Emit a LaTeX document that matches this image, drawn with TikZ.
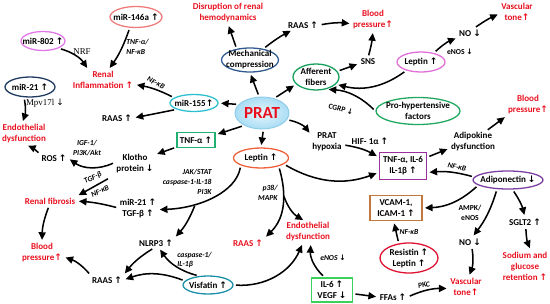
\documentclass[tikz,border=0pt]{standalone}
\usepackage{fontspec}
\setmainfont{Carlito}
\newfontfamily\arrfont{DejaVu Sans}
\newfontfamily\serffont{Liberation Serif}
\usetikzlibrary{shapes.geometric,arrows.meta}
\newcommand{\up}{{\arrfont\char"2191}}
\newcommand{\dn}{{\arrfont\char"2193}}
\definecolor{redtxt}{HTML}{E8101E}
\definecolor{c146}{HTML}{F07A7A}
\definecolor{c802}{HTML}{E277E8}
\definecolor{c21}{HTML}{1F3A5F}
\definecolor{cmech}{HTML}{2F5A8F}
\definecolor{c155}{HTML}{2BBFCF}
\definecolor{caff}{HTML}{12A05A}
\definecolor{cleptT}{HTML}{E070D8}
\definecolor{cpro}{HTML}{20A860}
\definecolor{ctnfa}{HTML}{20B070}
\definecolor{cleptM}{HTML}{F0603A}
\definecolor{ctnfbox}{HTML}{9B2FA0}
\definecolor{cadipo}{HTML}{7A3FA0}
\definecolor{cvcam}{HTML}{C07840}
\definecolor{cresist}{HTML}{E01030}
\definecolor{cvisf}{HTML}{1A90A8}
\definecolor{cil6}{HTML}{3CD060}
\definecolor{pratin}{HTML}{E8F6FD}
\definecolor{pratout}{HTML}{A9DDF4}
\definecolor{pratdraw}{HTML}{8CCBEA}
\begin{document}
\begin{tikzpicture}[x=0.03cm, y=0.03cm,
  tx/.style={font=\fontsize{7.7}{9.4}\selectfont\bfseries, align=center, inner sep=1pt},
  rd/.style={tx, text=redtxt},
  lb/.style={font=\fontsize{6.5}{8.3}\selectfont\bfseries\itshape, align=center, inner sep=1pt},
  sm/.style={font=\fontsize{6.5}{8.3}\selectfont\bfseries, align=center, inner sep=1pt},
  sf/.style={font=\serffont\fontsize{7.6}{9}\selectfont, inner sep=1pt},
  el/.style={tx, ellipse, draw=#1, line width=1.1pt, inner sep=-12pt},
  bx/.style={tx, draw=#1, line width=1.1pt, inner sep=1.5pt},
  ar/.style={-{Triangle[length=6.5pt,width=6pt]}, line width=1.3pt, shorten <=2pt, shorten >=2pt}
]
\useasboundingbox (0,0) rectangle (550,-304);

% ===== TOP LEFT =====
\node[el=c146, minimum width=1.56cm, minimum height=0.63cm] (m146) at (136,-17) {miR-146a \up};
\node[el=c802, minimum width=1.32cm, minimum height=0.57cm] (m802) at (43,-41) {miR-802 \up};
\node[sf] (nrf) at (82,-52) {NRF};
\node[lb, align=left, anchor=west] (tnfk) at (125,-47) {TNF-α/\\NF-κB};
\node[rd] (renalinf) at (103,-80) {Renal\\Inflammation \up};
\node[el=c21, minimum width=1.5cm, minimum height=0.6cm] (mir21) at (30,-87) {miR-21 \up};
\node[sf] (mpv) at (45,-103) {Mpv17l \dn};

% ===== TOP CENTRE / RIGHT =====
\node[rd] (disrupt) at (228,-13) {Disruption of renal\\hemodynamics};
\node[el=cmech, minimum width=1.71cm, minimum height=0.72cm] (mech) at (250,-60) {Mechanical\\compression};
\node[tx] (raasT) at (303,-25) {RAAS \up};
\node[rd] (bpT) at (373,-20) {Blood\\pressure\up};
\node[tx] (sns) at (368,-62) {SNS};
\node[el=caff, minimum width=1.38cm, minimum height=0.78cm] (aff) at (316,-77) {Afferent\\fibers};
\node[el=cleptT, minimum width=1.44cm, minimum height=0.6cm] (leptT) at (421,-62) {Leptin \up};
\node[tx] (noT) at (470,-33) {NO \dn};
\node[sm] (enosT) at (460,-52) {eNOS \dn};
\node[rd] (vascT) at (517,-12) {Vascular\\tone\up};
\node[el=cpro, minimum width=2.52cm, minimum height=0.81cm] (prohyp) at (418,-111) {Pro-hypertensive\\factors};
\node[sm, rotate=-15] (cgrp) at (341,-109) {CGRP \dn};

% ===== PRAT =====
\node[ellipse, inner color=pratin, outer color=pratout, draw=pratdraw, line width=0.8pt,
      minimum width=1.62cm, minimum height=0.96cm, inner sep=0pt,
      font=\fontsize{14.5}{16}\selectfont\bfseries, text=redtxt] (prat) at (262,-113) {PRAT};

% ===== LEFT MIDDLE =====
\node[el=c155, minimum width=1.44cm, minimum height=0.51cm] (mir155) at (194,-103) {miR-155\up};
\node[lb, rotate=-28] (nfk1) at (156,-83) {NF-κB};
\node[tx] (raasL) at (117,-118) {RAAS \up};
\node[bx=ctnfa, minimum width=1.14cm, minimum height=0.45cm] (tnfa) at (196,-140) {TNF-α \up};
\node[tx] (klotho) at (135,-164) {Klotho\\protein \dn};
\node[tx] (ros) at (54,-158) {ROS \up};
\node[lb] (igf) at (87,-148) {IGF-1/\\PI3K/Akt};
\node[rd] (endoL) at (24,-134) {Endothelial\\dysfunction};
\node[lb, rotate=25] (tgf1) at (93,-178) {TGF-β};
\node[lb, rotate=25] (nfk2) at (100,-191) {NF-κB};
\node[rd] (fibro) at (50,-201) {Renal fibrosis};
\node[tx] (mir21t) at (138,-208) {miR-21 \up\\TGF-β \up};
\node[lb, align=right, anchor=east] (jak) at (213,-182) {JAK/STAT\\caspase-1-IL-18\\PI3K};

% ===== BOTTOM LEFT =====
\node[tx] (nlrp3) at (156,-243) {NLRP3 \up};
\node[tx] (raasB) at (107,-280) {RAAS \up};
\node[rd] (bpL) at (42,-253) {Blood\\pressure\up};
\node[el=cvisf, minimum width=1.5cm, minimum height=0.54cm] (visf) at (208,-285) {Visfatin \up};
\node[lb, align=left, anchor=west] (casp) at (176,-260) {caspase-1/\\IL-1β};

% ===== CENTRE / BOTTOM =====
\node[el=cleptM, minimum width=1.65cm, minimum height=0.6cm] (leptM) at (261,-158) {Leptin \up};
\node[lb, align=right, anchor=east] (p38) at (279,-193) {p38/\\MAPK};
\node[rd] (raasM) at (248,-243) {RAAS \up};
\node[rd] (endoM) at (308,-232) {Endothelial\\dysfunction};
\node[lb] (enosM) at (333,-258) {eNOS \dn};
\node[bx=cil6, minimum width=1.23cm, minimum height=0.72cm] (il6) at (332,-290) {IL-6 \up\\VEGF \dn};
\node[tx] (ffas) at (393,-297) {FFAs \up};
\node[lb, rotate=12] (pkc) at (424,-285) {PKC};
\node[rd] (vascB) at (466,-287) {Vascular\\tone\up};
\node[el=cresist, minimum width=1.74cm, minimum height=0.9cm] (resist) at (409,-258) {Resistin \up\\Leptin \up};
\node[lb] (nfk3) at (409,-232) {NF-κB};
\node[bx=cvcam, minimum width=1.56cm, minimum height=0.75cm] (vcam) at (396,-208) {VCAM-1,\\ICAM-1 \up};

% ===== RIGHT MIDDLE =====
\node[tx] (hypox) at (327,-142) {PRAT\\hypoxia};
\node[tx] (hif) at (370,-141) {HIF- 1α \up};
\node[bx=ctnfbox, minimum width=1.41cm, minimum height=0.81cm] (tnfbox) at (403,-166) {TNF-α, IL-6\\IL-1β \up};
\node[tx] (adipok) at (473,-142) {Adipokine\\dysfunction};
\node[rd] (bpR) at (528,-105) {Blood\\pressure\up};
\node[el=cadipo, minimum width=2.1cm, minimum height=0.54cm] (adipo) at (508,-180) {Adiponectin \dn};
\node[lb, rotate=-12] (nfk4) at (457,-167) {NF-κB};
\node[sm] (ampk) at (470,-213) {AMPK/\\eNOS};
\node[tx] (noB) at (470,-242) {NO \dn};
\node[tx] (sglt) at (525,-222) {SGLT2 \up};
\node[rd] (sodium) at (525,-266) {Sodium and\\glucose\\retention \up};

% ---- arrows, top left ----
\draw[ar] (m802.-25) to[bend left=20] (renalinf.145);
\draw[ar] (m146.240) to[bend left=8] (renalinf.62);
\draw[ar] (mir155.165) to[bend right=8] (renalinf.-8);
\draw[ar] (mir21.240) to[bend left=15] (endoL.100);
\draw[ar] (ros.165) to[bend right=10] (endoL.-80);
\draw[ar] (klotho.175) to[bend left=30] (ros.east);
\draw[ar, shorten <=7pt] (klotho.south west) -- (fibro.north east);
\draw[ar] (mir21t.west) to[bend right=5] (fibro.east);
\draw[ar] (fibro.-100) to[bend right=10] (bpL.north);
\draw[ar] (raasB.north west) to[bend right=15] (bpL.-10);
\draw[ar] (nlrp3.-110) to[bend right=10] (raasB.north east);
\draw[ar] (visf.170) to[bend right=20] (raasB.east);
\draw[ar] (visf.135) to[bend left=20] (nlrp3.-60);
\draw[ar] (visf.east) to[bend right=35] (endoM.245);

% ---- arrows, top ----
\draw[ar] (mech.140) -- (disrupt.south);
\draw[ar] (mech.40) to[bend left=5] (raasT.205);
\draw[ar] (raasT.east) to[bend left=8] (bpT.190);
\draw[ar] (sns.north) to[bend right=5] (bpT.south);
\draw[ar] (aff.15) -- (sns.190);
\draw[ar] (leptT.210) to[bend left=25] (aff.-20);
\draw[ar] (leptT.35) to[bend left=10] (noT.200);
\draw[ar] (noT.50) to[bend left=5] (vascT.185);
\draw[ar] (prohyp.west) to[bend right=20] (aff.-50);

% ---- arrows from PRAT ----
\draw[ar] (prat.100) -- (mech.south);
\draw[ar] (prat.50) -- (aff.200);
\draw[ar] (prat.160) -- (mir155.east);
\draw[ar] (mir155.200) -- (raasL.east);
\draw[ar] (prat.215) -- (tnfa.15);
\draw[ar] (tnfa.200) -- (klotho.25);
\draw[ar] (prat.-85) -- (leptM.north);
\draw[ar] (prat.-15) to[bend left=20] (hypox.155);
\draw[ar] (hypox.-10) to[bend left=10] (tnfbox.160);

% ---- arrows from leptin ----
\draw[ar] (leptM.-15) to[bend right=25] (tnfbox.195);
\draw[ar] (leptM.200) .. controls (236,-192) and (200,-208) .. (mir21t.-5) coordinate[pos=0.68] (jakpt);
\draw[ar] (jakpt) to[bend left=10] (nlrp3.north east);
\draw[ar] (leptM.-25) .. controls (287,-195) and (285,-218) .. (raasM.north east) coordinate[pos=0.35] (p38pt);
\draw[ar] (p38pt) to[bend right=20] (endoM.105);

% ---- arrows, bottom right ----
\draw[ar] (il6.120) to[bend left=25] (endoM.-75);
\draw[ar] (il6.-10) -- (ffas.west);
\draw[ar] (ffas.east) to[bend left=12] (vascB.185);
\draw[ar] (resist.125) -- (vcam.-100);
\draw[ar] (adipo.190) to[bend left=20] (vcam.east);
\draw[ar] (adipo.175) to[bend right=10] (tnfbox.-15);
\draw[ar] (tnfbox.20) -- (adipok.195);
\draw[ar] (adipok.40) -- (bpR.south west);
\draw[ar] (adipo.220) to[bend left=10] (noB.65);
\draw[ar] (noB.-70) to[bend left=15] (vascB.75);
\draw[ar] (adipo.-65) to[bend left=10] (sglt.north);
\draw[ar] (sglt.-80) to[bend right=10] (sodium.70);

\end{tikzpicture}
\end{document}
